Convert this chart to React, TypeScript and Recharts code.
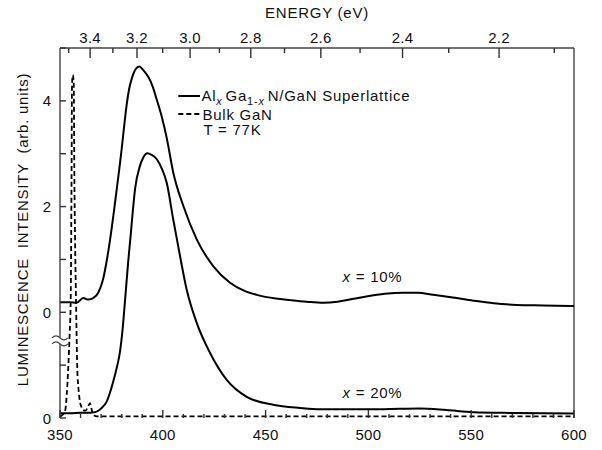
import React from 'react';
import { LineChart, Line, XAxis, YAxis, ReferenceLine, ReferenceDot, Legend, Label } from 'recharts';

// ---------- data (plotted intensity units; axis labels remap broken scale) ----------
const x10Wavelength = [350, 355, 358.1, 361.3, 363.8, 366.2, 368.6, 371.1, 372.7, 374.3, 377.6, 380, 381.2, 382.4, 383.6, 384.9, 386.8, 388.6, 390.5, 393, 395, 397, 399.5, 401.9, 405.1, 410, 416.5, 424.6, 432.7, 440, 445.7, 455, 462, 470, 478, 485, 492, 499, 508, 517, 524, 531.5, 541, 551, 561, 572, 585, 600];
const x10Intensity = [2.19, 2.19, 2.18, 2.27, 2.24, 2.27, 2.37, 2.65, 2.97, 3.36, 4.33, 5.09, 5.52, 5.92, 6.22, 6.42, 6.6, 6.65, 6.58, 6.45, 6.28, 6.03, 5.7, 5.3, 4.64, 4.01, 3.38, 2.87, 2.56, 2.4, 2.33, 2.26, 2.23, 2.2, 2.18, 2.2, 2.25, 2.3, 2.35, 2.37, 2.37, 2.33, 2.28, 2.22, 2.17, 2.14, 2.13, 2.12];

const x20Wavelength = [350, 355, 360, 365, 367.8, 370, 372.7, 375.9, 377.6, 379.2, 380.5, 381.6, 383.2, 384.4, 385.5, 386.5, 388.9, 390.5, 392.5, 394.5, 397, 399.5, 401.9, 405.1, 408.4, 411.6, 416.5, 423, 431.1, 440.8, 453.7, 466.7, 476.5, 490, 505, 515, 525, 538, 551, 570, 600];
const x20Intensity = [0.09, 0.09, 0.1, 0.1, 0.12, 0.18, 0.31, 0.69, 0.95, 1.26, 1.7, 2.21, 2.97, 3.47, 3.95, 4.33, 4.77, 4.93, 5.01, 4.98, 4.9, 4.72, 4.45, 3.75, 3.06, 2.43, 1.8, 1.23, 0.72, 0.4, 0.25, 0.19, 0.165, 0.165, 0.165, 0.175, 0.18, 0.15, 0.11, 0.095, 0.085];

const bulkWavelength = [350, 351.2, 352.4, 353.3, 354, 354.7, 355.2, 355.6, 355.85, 356.25, 356.7, 357.0, 357.3, 357.8, 358.4, 359, 359.7, 360.5, 361.3, 362.5, 363.5, 364.6, 365.4, 366.2, 368, 600];
const bulkIntensity = [0.03, 0.06, 0.12, 0.45, 0.94, 1.6, 2.21, 4.5, 6.3, 6.49, 6.3, 4.5, 3.47, 2.21, 0.94, 0.55, 0.31, 0.2, 0.15, 0.14, 0.2, 0.28, 0.16, 0.06, 0.03, 0.03];

const bottomTicks = [350, 360, 370, 380, 390, 400, 410, 420, 430, 440, 450, 460, 470, 480, 490, 500, 510, 520, 530, 540, 550, 560, 570, 580, 590, 600];
const topEnergies = [3.5, 3.4, 3.3, 3.2, 3.1, 3.0, 2.9, 2.8, 2.7, 2.6, 2.5, 2.4, 2.3, 2.2, 2.1];
const leftTicks = [0, 1, 2, 3, 4, 5, 6, 7];
const leftTickLabels: Record<number, string> = { 0: '0', 2: '0', 4: '2', 6: '4' };

const HC = 1239.84; // nm·eV

const x10Data = x10Wavelength.map((w, i) => ({ wl: w, v: x10Intensity[i] }));
const x20Data = x20Wavelength.map((w, i) => ({ wl: w, v: x20Intensity[i] }));
const bulkData = bulkWavelength.map((w, i) => ({ wl: w, v: bulkIntensity[i] }));
const topTicks = topEnergies.map((e) => HC / e).sort((a, b) => a - b);

// ---------- style ----------
const FONT = '"Liberation Sans", Arial, Helvetica, sans-serif';
const AXIS = '#444';
const TICK = '#333';
const TEXT = '#111';
const LS = 0.75;

const BottomTick = (props: any) => {
  const { x, y, payload } = props;
  const v = payload.value;
  const major = v % 50 === 0;
  return (
    <g>
      <line x1={x} x2={x} y1={y} y2={y - (major ? 8 : 4)} stroke={TICK} strokeWidth={1.4} />
      {major && (
        <text x={x} y={y + 22} textAnchor="middle" fontFamily={FONT} fontSize={15} fill={TEXT} letterSpacing={0.3}>
          {v}
        </text>
      )}
    </g>
  );
};

const TopTick = (props: any) => {
  const { x, y, payload } = props;
  const e = HC / payload.value;
  const major = Math.round(e * 10) % 2 === 0;
  return (
    <g>
      <line x1={x} x2={x} y1={y} y2={y + (major ? 10 : 5)} stroke={TICK} strokeWidth={1.4} />
      {major && (
        <text x={x} y={y - 5.3} textAnchor="middle" fontFamily={FONT} fontSize={15} fill={TEXT} letterSpacing={0.3}>
          {e.toFixed(1)}
        </text>
      )}
    </g>
  );
};

const LeftTick = (props: any) => {
  const { x, y, payload } = props;
  const label = leftTickLabels[payload.value];
  return (
    <g>
      <line x1={x} x2={x + 6} y1={y} y2={y} stroke={TICK} strokeWidth={1.4} />
      {label !== undefined && (
        <text x={x - 9} y={y + 5.5} textAnchor="end" fontFamily={FONT} fontSize={15} fill={TEXT}>
          {label}
        </text>
      )}
    </g>
  );
};

const BreakMark = (props: any) => {
  const { cx, cy } = props;
  return (
    <g>
      <rect x={cx - 8} y={cy - 3} width={14} height={6} fill="#fff" />
      <path d={`M${cx - 8},${cy - 3} q4,-4 8,0 t8,0`} fill="none" stroke={AXIS} strokeWidth={1.2} />
      <path d={`M${cx - 8},${cy + 3} q4,-4 8,0 t8,0`} fill="none" stroke={AXIS} strokeWidth={1.2} />
    </g>
  );
};

const makeSeriesLabel = (pct: string) => (props: any) => {
  const { cx, cy } = props;
  return (
    <text x={cx} y={cy + 5.2} textAnchor="middle" fontFamily={FONT} fontSize={15} fill={TEXT} letterSpacing={LS}>
      <tspan fontStyle="italic">x</tspan>
      {` = ${pct}`}
    </text>
  );
};

const LegendBox = () => (
  <svg width={250} height={64} style={{ display: 'block', overflow: 'visible' }}>
    <line x1={8.3} x2={30} y1={14} y2={14} stroke="#000" strokeWidth={2} />
    <text x={31.5} y={19} fontFamily={FONT} fontSize={15} fill={TEXT} letterSpacing={LS}>
      Al
      <tspan fontSize={11} fontStyle="italic" dy={4}>x</tspan>
      <tspan dy={-4} dx={3}>Ga</tspan>
      <tspan fontSize={11} dy={4}>1-</tspan>
      <tspan fontSize={11} fontStyle="italic">x</tspan>
      <tspan dy={-4} dx={3}>N/GaN Superlattice</tspan>
    </text>
    <line x1={8.3} x2={30} y1={32} y2={32} stroke="#000" strokeWidth={2} strokeDasharray="5 3" />
    <text x={32.5} y={37.5} fontFamily={FONT} fontSize={15} fill={TEXT} letterSpacing={LS}>
      Bulk GaN
    </text>
    <text x={33.5} y={53.3} fontFamily={FONT} fontSize={15} fill={TEXT} letterSpacing={LS}>
      T = 77K
    </text>
  </svg>
);

const YTitle = (props: any) => {
  const { viewBox } = props;
  const cx = viewBox.x + viewBox.width / 2 - 7.5;
  const cy = viewBox.y + viewBox.height / 2 - 3.5;
  return (
    <text
      x={cx}
      y={cy + 5.4}
      transform={`rotate(-90 ${cx} ${cy})`}
      textAnchor="middle"
      fontFamily={FONT}
      fontSize={15}
      fill={TEXT}
      letterSpacing={LS}
      style={{ whiteSpace: 'pre' }}
    >
      {'LUMINESCENCE  INTENSITY  (arb. units)'}
    </text>
  );
};

const TopTitle = (props: any) => {
  const { viewBox } = props;
  const cx = viewBox.x + viewBox.width / 2;
  return (
    <text x={cx} y={17.7} textAnchor="middle" fontFamily={FONT} fontSize={15} fill={TEXT} letterSpacing={LS}>
      ENERGY (eV)
    </text>
  );
};

export default function App() {
  return (
    <div style={{ position: 'absolute', left: 0, top: 0, background: '#fff' }}>
      <LineChart width={602} height={450} margin={{ top: 8, right: 28, bottom: 2, left: 0 }}>
        <XAxis
          dataKey="wl"
          type="number"
          domain={[350, 600]}
          ticks={bottomTicks}
          interval={0}
          axisLine={false}
          tickLine={false}
          tickSize={0}
          tickMargin={0}
          height={30}
          tick={<BottomTick />}
          allowDataOverflow
        />
        <XAxis
          xAxisId="top"
          dataKey="wl"
          orientation="top"
          type="number"
          domain={[350, 600]}
          ticks={topTicks}
          interval={0}
          axisLine={{ stroke: AXIS, strokeWidth: 1.4 }}
          tickLine={false}
          tickSize={0}
          tickMargin={0}
          height={40}
          tick={<TopTick />}
          allowDataOverflow
        >
          <Label content={<TopTitle />} />
        </XAxis>
        <YAxis
          type="number"
          domain={[0, 7]}
          ticks={leftTicks}
          interval={0}
          axisLine={{ stroke: AXIS, strokeWidth: 1.4 }}
          tickLine={false}
          tickSize={0}
          tickMargin={0}
          width={60}
          tick={<LeftTick />}
          allowDataOverflow
        >
          <Label content={<YTitle />} />
        </YAxis>
        <ReferenceLine x={600} stroke={AXIS} strokeWidth={1.4} />
        <Line xAxisId="top" data={bulkData} dataKey="v" type="monotone" stroke="#000" strokeWidth={1.8} strokeDasharray="5 3" dot={false} isAnimationActive={false} />
        <Line data={x20Data} dataKey="v" type="monotone" stroke="#000" strokeWidth={2} dot={false} isAnimationActive={false} />
        <Line data={x10Data} dataKey="v" type="monotone" stroke="#000" strokeWidth={2} dot={false} isAnimationActive={false} />
        <ReferenceDot x={350} y={1.46} r={0} shape={<BreakMark />} ifOverflow="visible" />
        <ReferenceDot x={502} y={2.67} r={0} shape={makeSeriesLabel('10%')} ifOverflow="visible" />
        <ReferenceDot x={502} y={0.48} r={0} shape={makeSeriesLabel('20%')} ifOverflow="visible" />
        <Legend
          layout="vertical"
          align="center"
          verticalAlign="middle"
          wrapperStyle={{ position: 'absolute', left: 170, top: 82, width: 250, height: 64 }}
          content={() => <LegendBox />}
        />
      </LineChart>
    </div>
  );
}
